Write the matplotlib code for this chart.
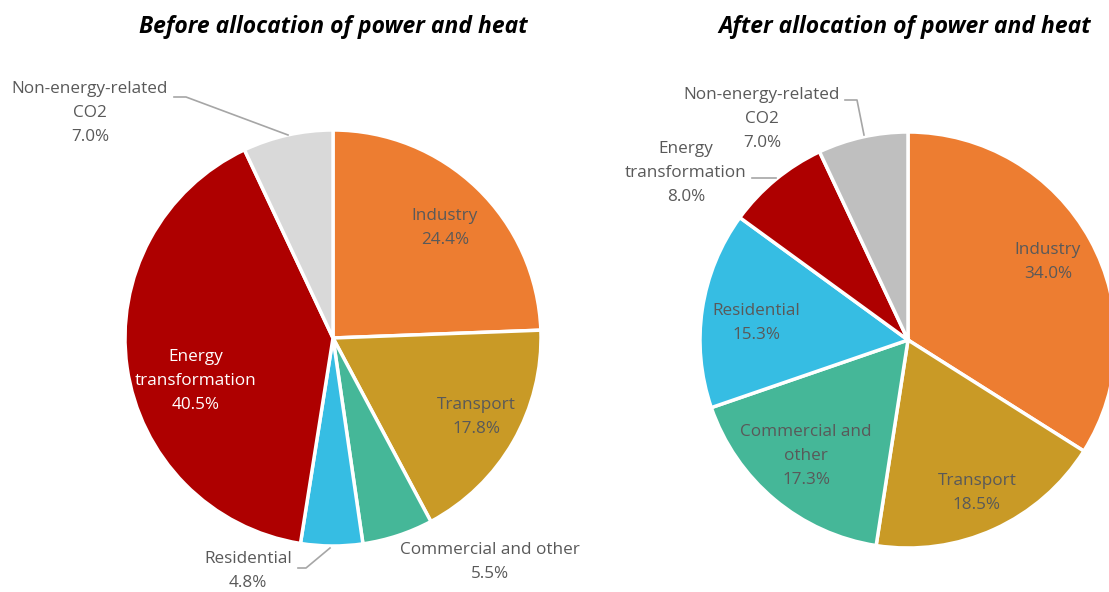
import matplotlib
matplotlib.use("Agg")
import matplotlib.pyplot as plt

W, H = 1109, 592

categories = ["Industry", "Transport", "Commercial and other", "Residential",
              "Energy transformation", "Non-energy-related CO2"]
before_values = [24.4, 17.8, 5.5, 4.8, 40.5, 7.0]
after_values = [34.0, 18.5, 17.3, 15.3, 8.0, 7.0]

before_labels = ["Industry", "Transport", "Commercial and other", "Residential",
                 "Energy\ntransformation", "Non-energy-related\nCO2"]
after_labels = ["Industry", "Transport", "Commercial and\nother", "Residential",
                "Energy\ntransformation", "Non-energy-related\nCO2"]

colors_before = ["#ED7D31", "#C99A26", "#45B798", "#36BDE3", "#AE0000", "#D9D9D9"]
colors_after = ["#ED7D31", "#C99A26", "#45B798", "#36BDE3", "#AE0000", "#BFBFBF"]

titles = ["Before allocation of power and heat", "After allocation of power and heat"]

# layout (pixel coords, y from top)
centers = [(333, 338), (908, 340)]
radius = 208
label_pos_before = [(445, 228), (476, 417), (490, 562), (248, 571), (196, 381), (90, 113)]
label_pos_after = [(1048, 262), (977, 493), (806, 456), (756, 323), (686, 173), (762, 119)]
label_colors_before = ["#595959"] * 4 + ["white", "#595959"]
label_colors_after = ["#595959"] * 6
leaders_before = {3: [(298, 568), (306, 568), (330, 548)],
                  5: [(174, 97), (186, 97), (288, 135)]}
leaders_after = {4: [(752, 178), (776, 178)],
                 5: [(845, 100), (857, 100), (864, 135)]}

font = ["Open Sans", "DejaVu Sans"]

fig = plt.figure(figsize=(W / 100, H / 100), dpi=100)
ax = fig.add_axes([0, 0, 1, 1])

def Y(y):
    return H - y

for values, labels, colors, (cx, cy), lpos, lcols, leaders in [
    (before_values, before_labels, colors_before, centers[0], label_pos_before,
     label_colors_before, leaders_before),
    (after_values, after_labels, colors_after, centers[1], label_pos_after,
     label_colors_after, leaders_after),
]:
    ax.pie(values, colors=colors, startangle=90, counterclock=False,
           center=(cx, Y(cy)), radius=radius, normalize=True,
           wedgeprops=dict(edgecolor="white", linewidth=2.5), frame=True)
    for i, (lab, v) in enumerate(zip(labels, values)):
        x, y = lpos[i]
        ax.text(x, Y(y), f"{lab}\n{v:.1f}%", ha="center", va="center",
                fontsize=12.3, color=lcols[i], family=font, linespacing=1.68)
    for i, pts in leaders.items():
        ax.plot([p[0] for p in pts], [Y(p[1]) for p in pts], color="#A6A6A6", lw=1.2)

ax.set_xlim(0, W)
ax.set_ylim(0, H)
ax.set_aspect("equal")
ax.axis("off")

ax.text(333, Y(27), titles[0], ha="center", va="center", fontsize=16.5,
        fontweight="bold", fontstyle="italic", family=font, color="black")
ax.text(718, Y(27), titles[1], ha="left", va="center", fontsize=16.5,
        fontweight="bold", fontstyle="italic", family=font, color="black")

fig.savefig("out.png", dpi=100, facecolor="white")
